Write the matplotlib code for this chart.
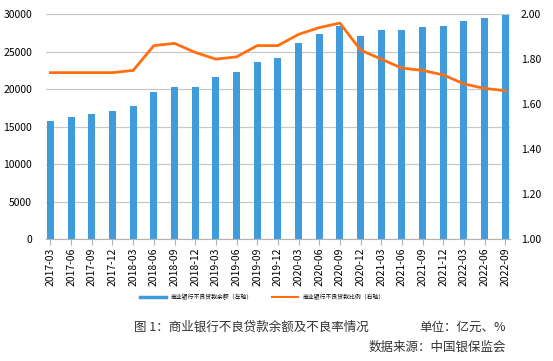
"""Commercial bank NPL balance and ratio chart"""

import matplotlib.pyplot as plt
from matplotlib.lines import Line2D

plt.rcParams['font.family'] = ['Noto Sans CJK SC', 'DejaVu Sans']

quarters = ['2017-03', '2017-06', '2017-09', '2017-12',
            '2018-03', '2018-06', '2018-09', '2018-12',
            '2019-03', '2019-06', '2019-09', '2019-12',
            '2020-03', '2020-06', '2020-09', '2020-12',
            '2021-03', '2021-06', '2021-09', '2021-12',
            '2022-03', '2022-06', '2022-09']

npl_balance = [15795, 16358, 16704, 17057,
               17742, 19571, 20254, 20254,
               21571, 22352, 23672, 24135,
               26136, 27365, 28350, 27015,
               27883, 27881, 28335, 28470,
               29123, 29502, 29910]

npl_ratio = [1.74, 1.74, 1.74, 1.74,
             1.75, 1.86, 1.87, 1.83,
             1.80, 1.81, 1.86, 1.86,
             1.91, 1.94, 1.96, 1.84,
             1.80, 1.76, 1.75, 1.73,
             1.69, 1.67, 1.66]

left_ticks = [0, 5000, 10000, 15000, 20000, 25000, 30000]
right_ticks = [1.00, 1.20, 1.40, 1.60, 1.80, 2.00]

bar_color = '#3f9bdb'
line_color = '#ff6f10'

fig = plt.figure(figsize=(5.53, 3.61), dpi=100)
ax = fig.add_axes([0.083, 0.337, 0.839, 0.624])
x = list(range(len(quarters)))

ax.bar(x, npl_balance, width=0.34, color=bar_color, zorder=2)
ax.set_ylim(0, 30000)
ax.set_yticks(left_ticks)
ax.set_xlim(-0.22, len(quarters) - 0.78)
ax.set_xticks(x)
ax.set_xticklabels(quarters, rotation=90, fontsize=7.5)
ax.tick_params(axis='y', labelsize=7.5, length=0, pad=10)
ax.tick_params(axis='x', length=4, color='#b3b3b3', pad=2)
ax.grid(axis='y', color='#c8c8c8', linewidth=0.9, zorder=0)
for side in ['left', 'right', 'top']:
    ax.spines[side].set_visible(False)
ax.spines['bottom'].set_color('#b3b3b3')

ax2 = ax.twinx()
ax2.plot(x, npl_ratio, color=line_color, linewidth=2.0, zorder=3)
ax2.set_ylim(1.0, 2.0)
ax2.set_yticks(right_ticks)
ax2.set_yticklabels([f'{v:.2f}' for v in right_ticks])
ax2.tick_params(axis='y', labelsize=7.5, length=0, pad=8)
for side in ['left', 'right', 'top', 'bottom']:
    ax2.spines[side].set_visible(False)

handles = [Line2D([0], [0], color=bar_color, linewidth=2.5),
           Line2D([0], [0], color=line_color, linewidth=1.5)]
fig.legend(handles, ['商业银行不良贷款余额（左轴）', '商业银行不良贷款比例（右轴）'],
           loc='center', bbox_to_anchor=(0.475, 0.177), ncol=2, frameon=False,
           fontsize=4.2, handlelength=4.5, handletextpad=0.8,
           columnspacing=3.2)

fig.text(0.455, 0.094, '图 1：商业银行不良贷款余额及不良率情况',
         ha='center', va='center', fontsize=9, color='#333333')
fig.text(0.915, 0.094, '单位：亿元、%', ha='right', va='center',
         fontsize=9, color='#333333')
fig.text(0.915, 0.038, '数据来源：中国银保监会', ha='right', va='center',
         fontsize=9, color='#333333')

fig.savefig('out.png', dpi=100)
